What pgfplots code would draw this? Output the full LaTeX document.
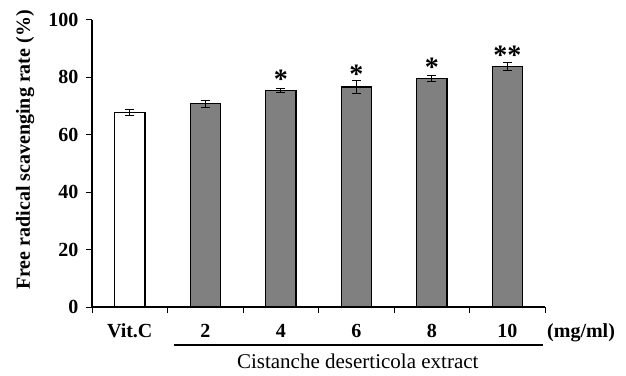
\documentclass[border=0pt]{standalone}
\usepackage{fontspec}
\setmainfont{Liberation Serif}
\usepackage{pgfplots}
\pgfplotsset{compat=1.18}
\newcommand{\tickfont}{\fontsize{20bp}{24bp}\selectfont\bfseries}
\begin{document}
\begin{tikzpicture}
\path[use as bounding box] (0,0) rectangle (626bp,376bp);
\begin{axis}[
  at={(92bp,69bp)}, anchor=south west,
  scale only axis, width=453bp, height=287bp,
  xmin=-0.5, xmax=5.5, ymin=0, ymax=100,
  clip=false,
  axis x line*=bottom, axis y line*=left,
  axis line style={line width=1.3bp, black},
  xtick={-0.5,0.5,...,5.5}, xticklabels={},
  extra x ticks={0,1,2,3,4,5},
  extra x tick labels={Vit.C,2,4,6,8,10},
  extra x tick style={major tick length=0pt, tick label style={anchor=base, yshift=-30bp}},
  ytick={0,20,...,100},
  yticklabel style={xshift=-4bp},
  major tick length=6bp,
  tick align=outside,
  tick style={line width=1bp, black},
  tick label style={font=\tickfont},
  /pgf/number format/assume math mode=true,
]
\addplot[ybar, bar shift=0pt, bar width=0.4, fill=white, draw=black, line width=1.3bp,
  error bars/.cd, y dir=both, y explicit,
  error bar style={line width=1bp, black},
  error mark options={rotate=90, line width=1bp, mark size=4.5bp, black}]
  coordinates {(0,67.7) +- (0,1.0)};
\addplot[ybar, bar shift=0pt, bar width=0.4, fill=black!50, draw=black, line width=1.3bp,
  error bars/.cd, y dir=both, y explicit,
  error bar style={line width=1bp, black},
  error mark options={rotate=90, line width=1bp, mark size=4.5bp, black}]
  coordinates {(1,70.8) +- (0,1.3) (2,75.5) +- (0,0.8) (3,76.7) +- (0,2.2) (4,79.6) +- (0,0.9) (5,83.7) +- (0,1.4)};
\addplot[draw=none, mark=none, nodes near coords, point meta=explicit symbolic,
  every node near coord/.style={anchor=base, inner sep=0pt, font=\fontsize{28bp}{30bp}\selectfont\bfseries}]
  coordinates {(2,76.2)[*] (3,77.9)[*] (4,80.4)[*] (5,84.5)[**]};
\draw[line width=1.3bp] ([yshift=-38bp]axis cs:0.58,0) -- ([yshift=-38bp]axis cs:5.47,0);
\node[anchor=base, font=\fontsize{21bp}{24bp}\selectfont] at ([yshift=-61bp]axis cs:3.02,0) {Cistanche deserticola extract};
\node[anchor=base west, inner sep=0pt, font=\tickfont] at ([xshift=2bp, yshift=-30bp]axis cs:5.5,0) {(mg/ml)};
\node[rotate=90, anchor=base, inner sep=0pt, font=\tickfont] at ([xshift=-62bp]rel axis cs:0,0.547) {Free radical scavenging rate (\%)};
\end{axis}
\end{tikzpicture}
\end{document}
